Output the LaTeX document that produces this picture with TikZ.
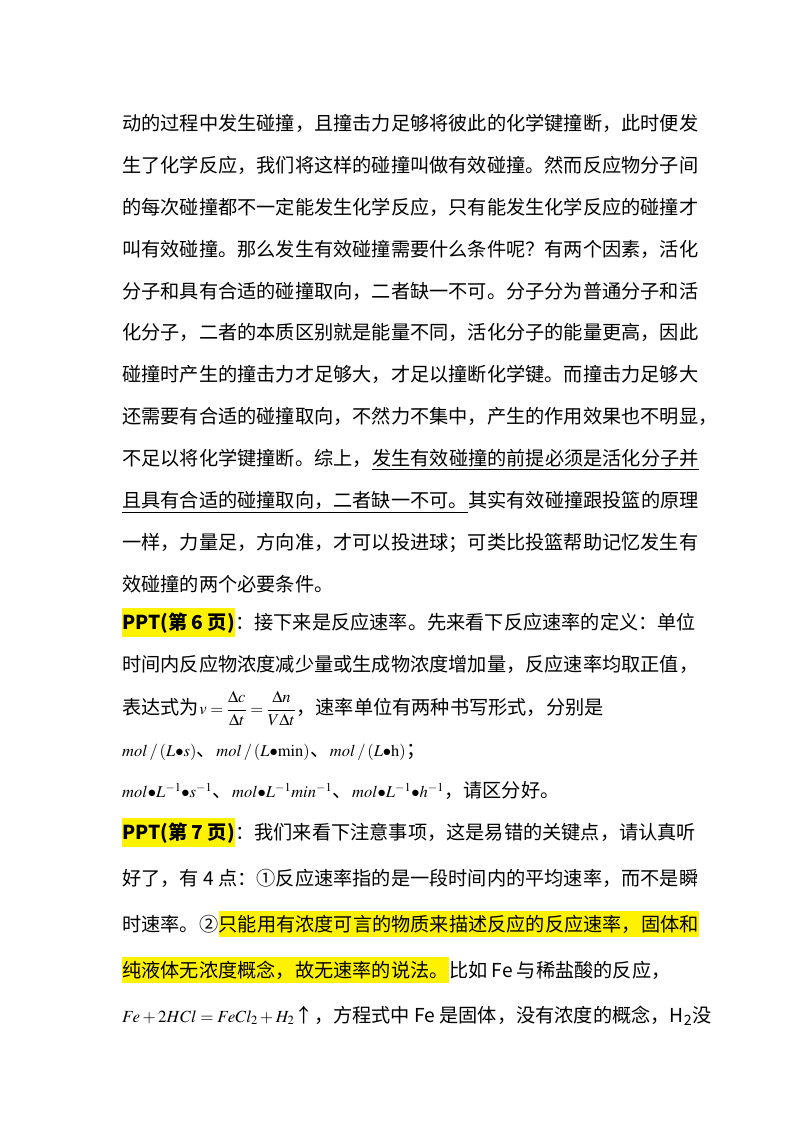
\documentclass[tikz,border=0pt]{standalone}
\usepackage{amsmath}
\usepackage{mathptmx}
\usepackage{fontspec}
\setmainfont{Liberation Serif}
\newfontfamily\cjk{Noto Sans CJK SC}
\begin{document}
\begin{tikzpicture}[x=1pt,y=-1pt,
  txt/.style={anchor=base west,inner sep=0pt,font=\cjk\fontsize{19.2}{22}\selectfont},
  hl/.style={txt,fill=yellow,inner ysep=4pt,inner xsep=0pt},
  small/.style={anchor=base west,inner sep=0pt,font=\fontsize{16.5}{19}\selectfont}]
\useasboundingbox[fill=white] (0,0) rectangle (800,1132);
\node[txt] (l1) at (122,130) {动的过程中发生碰撞，且撞击力足够将彼此的化学键撞断，此时便发};
\node[txt] (l2) at (122,172) {生了化学反应，我们将这样的碰撞叫做有效碰撞。然而反应物分子间};
\node[txt] (l3) at (122,214) {的每次碰撞都不一定能发生化学反应，只有能发生化学反应的碰撞才};
\node[txt] (l4) at (122,256) {叫有效碰撞。那么发生有效碰撞需要什么条件呢？有两个因素，活化};
\node[txt] (l5) at (122,298) {分子和具有合适的碰撞取向，二者缺一不可。分子分为普通分子和活};
\node[txt] (l6) at (122,339) {化分子，二者的本质区别就是能量不同，活化分子的能量更高，因此};
\node[txt] (l7) at (122,381) {碰撞时产生的撞击力才足够大，才足以撞断化学键。而撞击力足够大};
\node[txt] (l8) at (122,423) {还需要有合适的碰撞取向，不然力不集中，产生的作用效果也不明显，};
\node[txt] (l9) at (122,465) {不足以将化学键撞断。综上，};
\node[txt] (l9b) at (l9.base east) {发生有效碰撞的前提必须是活化分子并};
\node[txt] (l10) at (122,507) {且具有合适的碰撞取向，二者缺一不可。};
\node[txt] (l10b) at (l10.base east) {其实有效碰撞跟投篮的原理};
\draw[line width=0.8pt] ([yshift=-3pt]l9b.south west) -- ([yshift=-3pt]l9b.south east);
\draw[line width=0.8pt] ([yshift=-3pt]l10.south west) -- ([yshift=-3pt]l10.south east);
\node[txt] (l11) at (122,549) {一样，力量足，方向准，才可以投进球；可类比投篮帮助记忆发生有};
\node[txt] (l12) at (122,591) {效碰撞的两个必要条件。};
\node[hl,font=\cjk\bfseries\fontsize{19.2}{22}\selectfont] (p6) at (122,629) {PPT(第 6 页)};
\node[txt] (l13) at (p6.base east) {：接下来是反应速率。先来看下反应速率的定义：单位};
\node[txt] (l14) at (122,671) {时间内反应物浓度减少量或生成物浓度增加量，反应速率均取正值，};
\node[txt] (l15) at (122,714) {表达式为};
\node[txt,font=\fontsize{16.5}{19}\selectfont] (f) at (l15.base east) {$v=\dfrac{\Delta c}{\Delta t}=\dfrac{\Delta n}{V\Delta t}$};
\node[txt] (l15b) at (f.base east) {，速率单位有两种书写形式，分别是};
\node[small] (l16) at (122,756) {$mol\,/\,(L{\bullet}s)$};
\node[txt] (l16a) at (l16.base east) {、};
\node[small] (l16b) at (l16a.base east) {$mol\,/\,(L{\bullet}\mathrm{min})$};
\node[txt] (l16c) at (l16b.base east) {、};
\node[small] (l16d) at (l16c.base east) {$mol\,/\,(L{\bullet}\mathrm{h})$};
\node[txt] (l16e) at (l16d.base east) {；};
\node[small] (l17) at (122,797) {$mol{\bullet}L^{-1}{\bullet}s^{-1}$};
\node[txt] (l17a) at (l17.base east) {、};
\node[small] (l17b) at (l17a.base east) {$mol{\bullet}L^{-1}min^{-1}$};
\node[txt] (l17c) at (l17b.base east) {、};
\node[small] (l17d) at (l17c.base east) {$mol{\bullet}L^{-1}{\bullet}h^{-1}$};
\node[txt] (l17e) at (l17d.base east) {，请区分好。};
\node[hl,font=\cjk\bfseries\fontsize{19.2}{22}\selectfont] (p7) at (122,839) {PPT(第 7 页)};
\node[txt] (l18) at (p7.base east) {：我们来看下注意事项，这是易错的关键点，请认真听};
\node[txt] (l19) at (122,885) {好了，有 4 点：①反应速率指的是一段时间内的平均速率，而不是瞬};
\node[txt] (l20) at (122,931) {时速率。②};
\node[hl] (l20b) at (l20.base east) {只能用有浓度可言的物质来描述反应的反应速率，固体和};
\node[hl] (l21) at (122,977) {纯液体无浓度概念，故无速率的说法。};
\node[txt] (l21b) at (l21.base east) {比如 Fe 与稀盐酸的反应，};
\node[small,font=\fontsize{17}{20}\selectfont] (l22) at (122,1022) {$Fe+2HCl=FeCl_2+H_2$};
\node[txt] (l22b) at (l22.base east) {↑，方程式中 Fe 是固体，没有浓度的概念，H\textsubscript{2}没};
\end{tikzpicture}
\end{document}
